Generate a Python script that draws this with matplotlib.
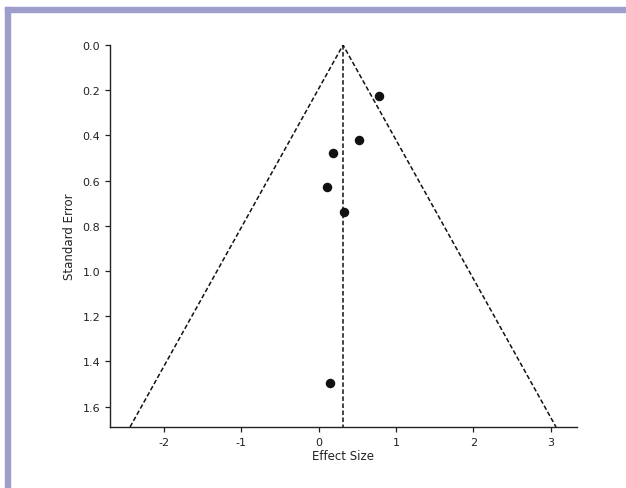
import matplotlib
matplotlib.use("Agg")
import matplotlib.pyplot as plt
from matplotlib.patches import Rectangle
import numpy as np

effect = [0.78, 0.52, 0.18, 0.11, 0.32, 0.15]
se = [0.227, 0.42, 0.48, 0.63, 0.74, 1.495]
pooled = 0.314
funnel_mult = 1.63
se_max = 1.69
xticks = [-2, -1, 0, 1, 2, 3]
yticks = [0.0, 0.2, 0.4, 0.6, 0.8, 1.0, 1.2, 1.4, 1.6]

fig = plt.figure(figsize=(6.26, 4.89), dpi=100)
fig.patch.set_facecolor("white")
W, H = 626, 489
border = "#9e9ecd"
fig.patches.append(Rectangle((5 / W, 0), 5 / W, 1 - 8 / H, transform=fig.transFigure, color=border, zorder=0))
fig.patches.append(Rectangle((5 / W, 1 - 13 / H), 1 - 5 / W, 5 / H, transform=fig.transFigure, color=border, zorder=0))

ax = fig.add_axes([110 / W, 1 - 428 / H, (577 - 110) / W, (428 - 46) / H])
ax.set_facecolor("none")

ax.plot([pooled - funnel_mult * se_max, pooled, pooled + funnel_mult * se_max],
        [se_max, 0, se_max], ls=(0, (3, 1.6)), color="#111111", lw=1.1)
ax.plot([pooled, pooled], [0, se_max], ls=(0, (3, 1.6)), color="#111111", lw=1.1)
ax.scatter(effect, se, s=34, color="#111111", zorder=3)

ax.set_xlim(-2.70, 3.34)
ax.set_ylim(se_max, 0)
ax.set_xticks(xticks)
ax.set_xticklabels([str(t) for t in xticks])
ax.set_yticks(yticks)
ax.set_yticklabels([f"{t:.1f}" for t in yticks])
ax.tick_params(labelsize=8, length=3.5, width=0.9, colors="#222222")
ax.set_xlabel("Effect Size", fontsize=8.5, labelpad=2, color="#222222")
ax.set_ylabel("Standard Error", fontsize=8.5, labelpad=5, color="#222222")
for s in ["top", "right"]:
    ax.spines[s].set_visible(False)
for s in ["left", "bottom"]:
    ax.spines[s].set_linewidth(1.0)
    ax.spines[s].set_color("#222222")

fig.savefig("out.png", dpi=100)
